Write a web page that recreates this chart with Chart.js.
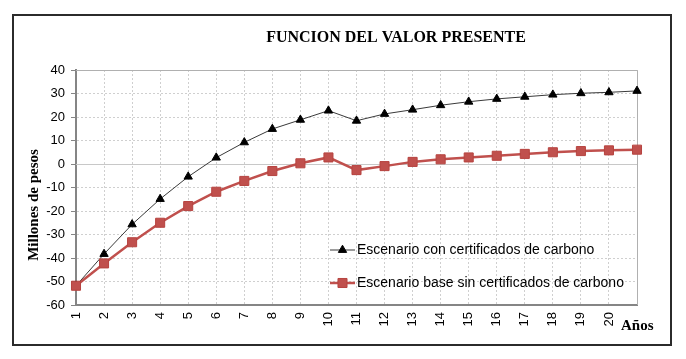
<!DOCTYPE html>
<html lang="es">
<head>
<meta charset="UTF-8">
<title>Funcion del valor presente</title>
<script src="https://cdn.jsdelivr.net/npm/chart.js@4.4.1/dist/chart.umd.min.js"></script>
<style>
  html, body { margin: 0; padding: 0; background: #fff; }
  #wrap { width: 686px; height: 359px; }
</style>
</head>
<body>
<div id="wrap"><canvas id="vpChart"></canvas></div>
<script>
// years on the x axis (the last point has no label in the original)
const years = ['1', '2', '3', '4', '5', '6', '7', '8', '9', '10',
               '11', '12', '13', '14', '15', '16', '17', '18', '19', '20', ''];

// millones de pesos
const conCertificados = [-51.8, -38.3, -25.7, -14.9, -5.4, 2.7, 9.2, 14.9, 18.8, 22.7,
                         18.4, 21.3, 23.1, 25.0, 26.5, 27.7, 28.6, 29.5, 30.1, 30.5, 31.1];
const sinCertificados = [-51.8, -42.3, -33.3, -25.0, -17.9, -11.8, -7.2, -3.0, 0.3, 2.8,
                         -2.6, -0.9, 0.9, 2.0, 2.8, 3.5, 4.3, 5.0, 5.5, 5.8, 6.1];

const yMin = -60, yMax = 40, yStep = 10;

const labelCon = 'Escenario con certificados de carbono';
const labelSin = 'Escenario base sin certificados de carbono';

const tickFont = { family: "'Liberation Sans', Arial, sans-serif", size: 13 };
const serifBold = "bold 15px 'Liberation Serif', 'Times New Roman', serif";

function drawMarker(ctx, ds, x, y) {
    const r = ds.pointRadius;
    ctx.save();
    ctx.fillStyle = ds.pointBackgroundColor;
    ctx.strokeStyle = ds.pointBorderColor;
    ctx.lineWidth = ds.pointBorderWidth;
    ctx.setLineDash([]);
    ctx.beginPath();
    if (ds.pointStyle === 'triangle') {
        const a = 2 * Math.PI / 3;
        ctx.moveTo(x, y - r);
        ctx.lineTo(x + Math.sin(a) * r, y - Math.cos(a) * r);
        ctx.lineTo(x + Math.sin(2 * a) * r, y - Math.cos(2 * a) * r);
        ctx.closePath();
    } else {
        const s = r * Math.SQRT1_2;
        ctx.rect(x - s, y - s, 2 * s, 2 * s);
    }
    ctx.fill();
    ctx.stroke();
    ctx.restore();
}

// frame, titles and the legend box that sits inside the plot
const decorPlugin = {
    id: 'decor',
    beforeDraw(chart) {
        const ctx = chart.ctx;
        ctx.save();
        ctx.fillStyle = '#ffffff';
        ctx.fillRect(0, 0, chart.width, chart.height);
        ctx.restore();
    },
    beforeDatasetsDraw(chart) {
        const { ctx, chartArea: a, scales: { y } } = chart;
        ctx.save();
        ctx.lineWidth = 1;
        ctx.setLineDash([]);
        // solid zero line
        ctx.strokeStyle = '#c8c8c8';
        const y0 = Math.round(y.getPixelForValue(0)) + 0.5;
        ctx.beginPath();
        ctx.moveTo(a.left, y0);
        ctx.lineTo(a.right, y0);
        ctx.stroke();
        // top and right edge of the plot
        ctx.strokeStyle = '#b0b0b0';
        ctx.beginPath();
        ctx.moveTo(a.left, a.top + 0.5);
        ctx.lineTo(a.right + 0.5, a.top + 0.5);
        ctx.lineTo(a.right + 0.5, a.bottom);
        ctx.stroke();
        ctx.restore();
    },
    afterDraw(chart) {
        const { ctx, chartArea: a } = chart;
        ctx.save();

        // outer box
        ctx.strokeStyle = '#2b2b2b';
        ctx.lineWidth = 2;
        ctx.strokeRect(13, 15, 658, 330);

        // title
        ctx.fillStyle = '#000';
        ctx.font = "bold 16px 'Liberation Serif', 'Times New Roman', serif";
        ctx.textAlign = 'center';
        ctx.textBaseline = 'middle';
        ctx.fillText('FUNCION DEL VALOR PRESENTE', 396, 38);

        // y axis title
        ctx.font = serifBold;
        ctx.save();
        ctx.translate(34, 205);
        ctx.rotate(-Math.PI / 2);
        ctx.fillText('Millones de pesos', 0, 0);
        ctx.restore();

        // x axis title
        ctx.textAlign = 'left';
        ctx.fillText('Años', 621, 326);

        // legend
        const rows = [a.top + 180, a.top + 213];
        chart.data.datasets.forEach(function (ds, i) {
            const yy = rows[i];
            const x0 = a.left + 254, x1 = a.left + 279;
            ctx.strokeStyle = ds.borderColor;
            ctx.lineWidth = ds.borderWidth;
            ctx.beginPath();
            ctx.moveTo(x0, yy);
            ctx.lineTo(x1, yy);
            ctx.stroke();
            drawMarker(ctx, ds, (x0 + x1) / 2, yy);
            ctx.fillStyle = '#000';
            ctx.font = "14px 'Liberation Sans', Arial, sans-serif";
            ctx.textAlign = 'left';
            ctx.textBaseline = 'middle';
            ctx.fillText(ds.label, x1 + 2, yy);
        });

        ctx.restore();
    }
};

const ctx = document.getElementById('vpChart').getContext('2d');
new Chart(ctx, {
    type: 'line',
    data: {
        labels: years,
        datasets: [{
            label: labelCon,
            data: conCertificados,
            borderColor: '#3a3a3a',
            borderWidth: 1,
            pointStyle: 'triangle',
            pointRadius: 4.8,
            pointBackgroundColor: '#000000',
            pointBorderColor: '#000000',
            pointBorderWidth: 1,
            tension: 0,
            order: 1
        }, {
            label: labelSin,
            data: sinCertificados,
            borderColor: '#c0504d',
            borderWidth: 2.5,
            pointStyle: 'rect',
            pointRadius: 6.4,
            pointBackgroundColor: '#c0504d',
            pointBorderColor: '#b6433f',
            pointBorderWidth: 1,
            tension: 0,
            order: 0
        }]
    },
    options: {
        responsive: true,
        maintainAspectRatio: false,
        animation: false,
        layout: { padding: { left: 12, top: 70, right: 49, bottom: 0 } },
        plugins: {
            legend: { display: false },
            tooltip: { enabled: false },
            title: { display: false }
        },
        scales: {
            x: {
                offset: false,
                grid: {
                    color: '#cfcfcf',
                    lineWidth: 1,
                    drawTicks: false
                },
                border: { display: true, color: '#858585', width: 2, dash: [2, 2] },
                ticks: {
                    autoSkip: false,
                    minRotation: 90,
                    maxRotation: 90,
                    padding: 7,
                    color: '#000',
                    font: tickFont
                },
                afterFit(scale) { scale.height = 54; }
            },
            y: {
                min: yMin,
                max: yMax,
                grid: {
                    color: '#cfcfcf',
                    lineWidth: 1,
                    drawTicks: true,
                    tickLength: 5,
                    tickColor: '#858585'
                },
                border: { display: true, color: '#858585', width: 2, dash: [2, 2] },
                ticks: {
                    stepSize: yStep,
                    padding: 6,
                    color: '#000',
                    font: tickFont
                },
                afterFit(scale) { scale.width = 64; }
            }
        }
    },
    plugins: [decorPlugin]
});
</script>
</body>
</html>
